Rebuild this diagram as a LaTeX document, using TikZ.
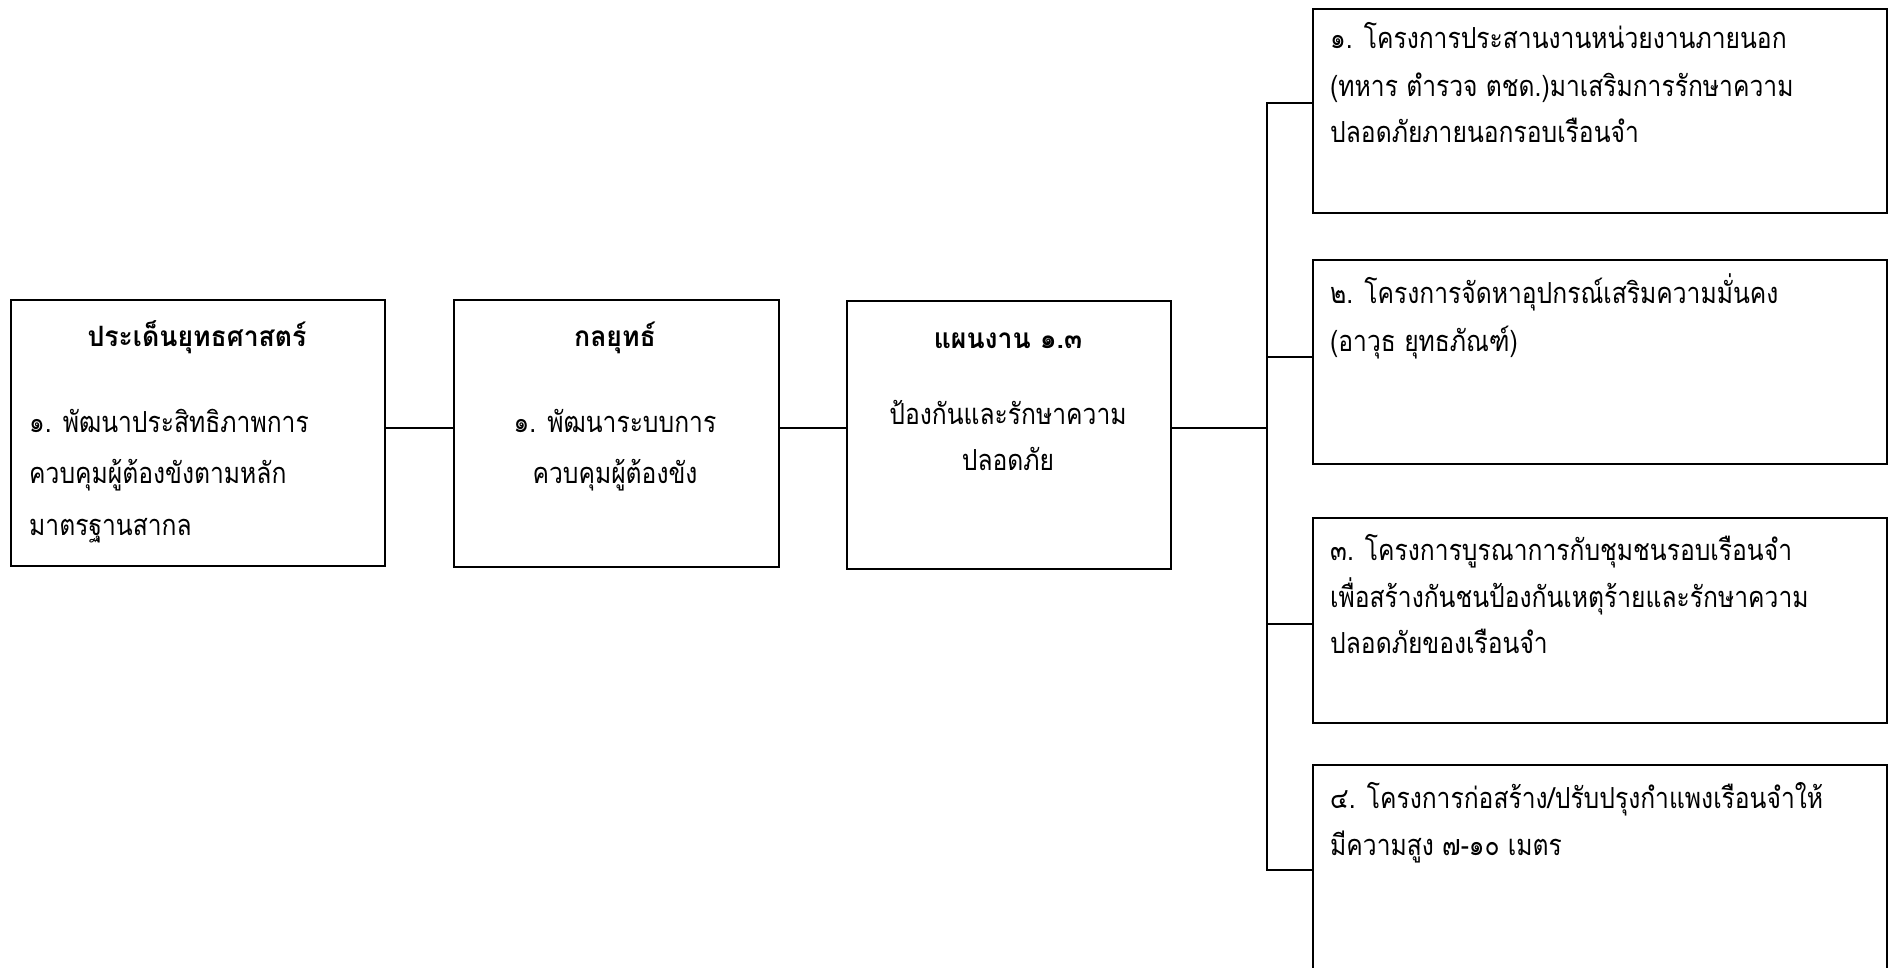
\documentclass[tikz,border=0pt]{standalone}
\usepackage{fontspec}
\newfontfamily\thai[Script=Thai,FakeStretch=0.85]{Loma}
\newfontfamily\thaib[Script=Thai,FakeStretch=0.95]{Loma Bold}
\begin{document}
\begin{tikzpicture}[x=1pt,y=-1pt,
  box/.style={draw=black, line width=2pt, inner sep=0pt, anchor=north west},
  ln/.style={draw=black, line width=2pt},
  txtl/.style={inner sep=0pt, anchor=base west, font=\thai\fontsize{29}{29}\selectfont},
  txtc/.style={inner sep=0pt, anchor=base, font=\thai\fontsize{29}{29}\selectfont},
  ttl/.style={inner sep=0pt, anchor=base, font=\thaib\fontsize{28}{28}\selectfont}]
\clip (0,0) rectangle (1896,967);
\fill[white] (0,0) rectangle (1896,967);
% left boxes
\node[box, minimum width=374pt, minimum height=266pt] (b1) at (10,299) {};
\node[box, minimum width=325pt, minimum height=267pt] (b2) at (453,299) {};
\node[box, minimum width=324pt, minimum height=268pt] (b3) at (846,300) {};
% right boxes
\node[box, minimum width=574pt, minimum height=204pt] (r1) at (1312,8) {};
\node[box, minimum width=574pt, minimum height=204pt] (r2) at (1312,259) {};
\node[box, minimum width=574pt, minimum height=205pt] (r3) at (1312,517) {};
\node[box, minimum width=574pt, minimum height=330pt] (r4) at (1312,764) {};
% texts box 1
\node[ttl] (b1t) at (197,346) {ประเด็นยุทธศาสตร์};
\node[txtl] (b1a) at (29,432) {๑. พัฒนาประสิทธิภาพการ};
\node[txtl] (b1b) at (29,483) {ควบคุมผู้ต้องขังตามหลัก};
\node[txtl] (b1c) at (29,535) {มาตรฐานสากล};
% texts box 2
\node[ttl] (b2t) at (615,346) {กลยุทธ์};
\node[txtc] (b2a) at (615,432) {๑. พัฒนาระบบการ};
\node[txtc] (b2b) at (615,483) {ควบคุมผู้ต้องขัง};
% texts box 3
\node[ttl] (b3t) at (1008,348) {แผนงาน ๑.๓};
\node[txtc] (b3a) at (1008,424) {ป้องกันและรักษาความ};
\node[txtc] (b3b) at (1008,470) {ปลอดภัย};
% right texts
\node[txtl] (r1a) at (1330,48) {๑. โครงการประสานงานหน่วยงานภายนอก};
\node[txtl] (r1b) at (1330,96) {(ทหาร ตำรวจ ตชด.)มาเสริมการรักษาความ};
\node[txtl] (r1c) at (1330,142) {ปลอดภัยภายนอกรอบเรือนจำ};
\node[txtl] (r2a) at (1330,303) {๒. โครงการจัดหาอุปกรณ์เสริมความมั่นคง};
\node[txtl] (r2b) at (1330,351) {(อาวุธ ยุทธภัณฑ์)};
\node[txtl] (r3a) at (1330,560) {๓. โครงการบูรณาการกับชุมชนรอบเรือนจำ};
\node[txtl] (r3b) at (1330,607) {เพื่อสร้างกันชนป้องกันเหตุร้ายและรักษาความ};
\node[txtl] (r3c) at (1330,653) {ปลอดภัยของเรือนจำ};
\node[txtl] (r4a) at (1330,808) {๔. โครงการก่อสร้าง/ปรับปรุงกำแพงเรือนจำให้};
\node[txtl] (r4b) at (1330,855) {มีความสูง ๗-๑๐ เมตร};
% connectors
\coordinate (m) at (0,428);
\coordinate (tt) at (1267,103);
\coordinate (tb) at (1267,870);
\coordinate (j2) at (1267,357);
\coordinate (j3) at (1267,624);
\draw[ln] (b1.east |- m) -- (b2.west |- m);
\draw[ln] (b2.east |- m) -- (b3.west |- m);
\draw[ln] (b3.east |- m) -- (tt |- m);
\draw[ln] (r1.west |- tt) -- (tt) -- (tb) -- (r4.west |- tb);
\draw[ln] (j2) -- (j2 -| r2.west);
\draw[ln] (j3) -- (j3 -| r3.west);
\end{tikzpicture}
\end{document}
